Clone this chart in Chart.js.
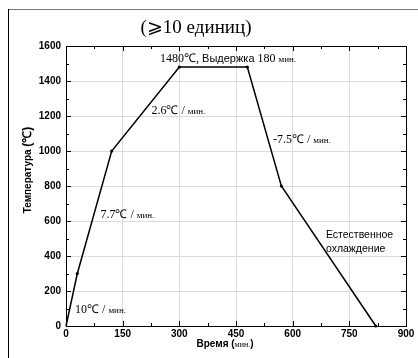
<!DOCTYPE html>
<html>
<head>
<meta charset="utf-8">
<script src="https://cdn.jsdelivr.net/npm/chart.js@4/dist/chart.umd.min.js"></script>
<style>
  html, body { margin: 0; padding: 0; background: #fff; }
  #wrap { width: 418px; height: 358px; position: relative; }
</style>
</head>
<body>
<div id="wrap"><canvas id="chart"></canvas></div>
<script>
/* ── Data ───────────────────────────────────────────────────── */
const timeMin = [0, 30, 121, 300, 480, 570, 820];
const tempC   = [0, 300, 1000, 1480, 1480, 800, 0];
const xTicks  = [0, 150, 300, 450, 600, 750, 900];
const yTicks  = [0, 200, 400, 600, 800, 1000, 1200, 1400, 1600];

const SERIF = "'Liberation Serif', 'Times New Roman', serif";
const SANS  = "'Liberation Sans', Arial, sans-serif";

/* annotations: anchor in data units, runs of [text, font] */
const rate = (v) => [[v, '12px ' + SERIF], [' / ', '12px ' + SERIF], ['мин.', '9px ' + SERIF]];
const notes = [
  { x: 249, y: 1510, runs: [['1480℃, ', '12px ' + SERIF], ['Выдержка', '11px ' + SANS], [' 180 ', '12px ' + SERIF], ['мин.', '9px ' + SERIF]] },
  { x: 226, y: 1212, runs: rate('2.6℃') },
  { x: 548, y: 1046, runs: rate('-7.5℃') },
  { x: 91,  y: 617,  runs: rate('7.7℃') },
  { x: 24,  y: 75,   runs: rate('10℃') },
  { x: 688, y: 503,  runs: [['Естественное', '10.5px ' + SANS]] },
  { x: 688, y: 423,  runs: [['охлаждение', '10.5px ' + SANS]] }
];

function drawRuns(ctx, runs, x, y, align) {
  let w = 0;
  runs.forEach(r => { ctx.font = r[1]; w += ctx.measureText(r[0]).width; });
  let cx = align === 'center' ? x - w / 2 : x;
  runs.forEach(r => {
    ctx.font = r[1];
    ctx.fillText(r[0], cx, y);
    cx += ctx.measureText(r[0]).width;
  });
}

/* ── Frame, inward ticks, titles, notes ─────────────────────── */
const decor = {
  id: 'decor',
  afterDraw(chart) {
    const { ctx, chartArea: a, scales: { x, y } } = chart;
    ctx.save();
    ctx.strokeStyle = '#000';
    ctx.lineWidth = 1;
    ctx.strokeRect(a.left + 0.5, a.top + 0.5, a.right - a.left, a.bottom - a.top);

    // inward ticks on all four sides
    ctx.beginPath();
    for (let v = 0; v <= 900; v += 75) {
      const px = Math.round(x.getPixelForValue(v)) + 0.5;
      const len = v % 150 === 0 ? 5 : 3;
      ctx.moveTo(px, a.bottom); ctx.lineTo(px, a.bottom - len);
      ctx.moveTo(px, a.top);    ctx.lineTo(px, a.top + len);
    }
    for (let v = 0; v <= 1600; v += 100) {
      const py = Math.round(y.getPixelForValue(v)) + 0.5;
      const len = v % 200 === 0 ? 5 : 3;
      ctx.moveTo(a.left, py);  ctx.lineTo(a.left + len, py);
      ctx.moveTo(a.right, py); ctx.lineTo(a.right - len, py);
    }
    ctx.stroke();

    // outer page frame (top and left only)
    ctx.strokeStyle = '#777';
    ctx.beginPath(); ctx.moveTo(8, 9.5); ctx.lineTo(418, 9.5); ctx.stroke();
    ctx.strokeStyle = '#000';
    ctx.beginPath(); ctx.moveTo(8.5, 9); ctx.lineTo(8.5, 358); ctx.stroke();

    ctx.fillStyle = '#000';
    ctx.textBaseline = 'alphabetic';

    // header
    drawRuns(ctx, [['(⩾10 единиц)', '19px ' + SERIF]], 196, 33, 'center');

    // axis titles
    drawRuns(ctx, [['Время', 'bold 10px ' + SANS], [' (', 'bold 10px ' + SANS], ['мин.', '8px ' + SERIF], [')', 'bold 10px ' + SANS]], 225, 347, 'center');
    ctx.save();
    ctx.translate(31, 170);
    ctx.rotate(-Math.PI / 2);
    drawRuns(ctx, [['Температура ', 'bold 10px ' + SANS], ['(℃)', 'bold 12px ' + SANS]], 0, 0, 'center');
    ctx.restore();

    // notes
    notes.forEach(n => drawRuns(ctx, n.runs, x.getPixelForValue(n.x), y.getPixelForValue(n.y), 'left'));
    ctx.restore();
  }
};

/* ── Chart ──────────────────────────────────────────────────── */
new Chart(document.getElementById('chart'), {
  type: 'line',
  data: {
    datasets: [{
      data: timeMin.map((t, i) => ({ x: t, y: tempC[i] })),
      borderColor: '#000',
      borderWidth: 1.5,
      tension: 0,
      pointRadius: [0, 1.6, 1.6, 1.6, 1.6, 1.6, 1.6],
      pointBackgroundColor: '#000',
      pointBorderWidth: 0,
      clip: false
    }]
  },
  options: {
    responsive: true,
    maintainAspectRatio: false,
    animation: false,
    devicePixelRatio: 1,
    layout: { padding: { left: 8, top: 46, right: 12, bottom: 0 } },
    plugins: { legend: { display: false }, tooltip: { enabled: false } },
    scales: {
      x: {
        type: 'linear', min: 0, max: 900,
        afterBuildTicks: s => { s.ticks = xTicks.map(v => ({ value: v })); },
        afterFit: s => { s.height = 32; },
        ticks: { color: '#000', font: { family: SANS, size: 10, weight: 'bold' }, padding: 2, maxRotation: 0, callback: v => String(v) },
        grid: { color: '#dcdcdc', drawTicks: false },
        border: { display: false }
      },
      y: {
        type: 'linear', min: 0, max: 1600,
        afterBuildTicks: s => { s.ticks = yTicks.map(v => ({ value: v })); },
        afterFit: s => { s.width = 58; },
        ticks: { color: '#000', font: { family: SANS, size: 10, weight: 'bold' }, padding: 5, callback: v => String(v) },
        grid: { color: '#dcdcdc', drawTicks: false },
        border: { display: false }
      }
    }
  },
  plugins: [decor]
});
</script>
</body>
</html>
